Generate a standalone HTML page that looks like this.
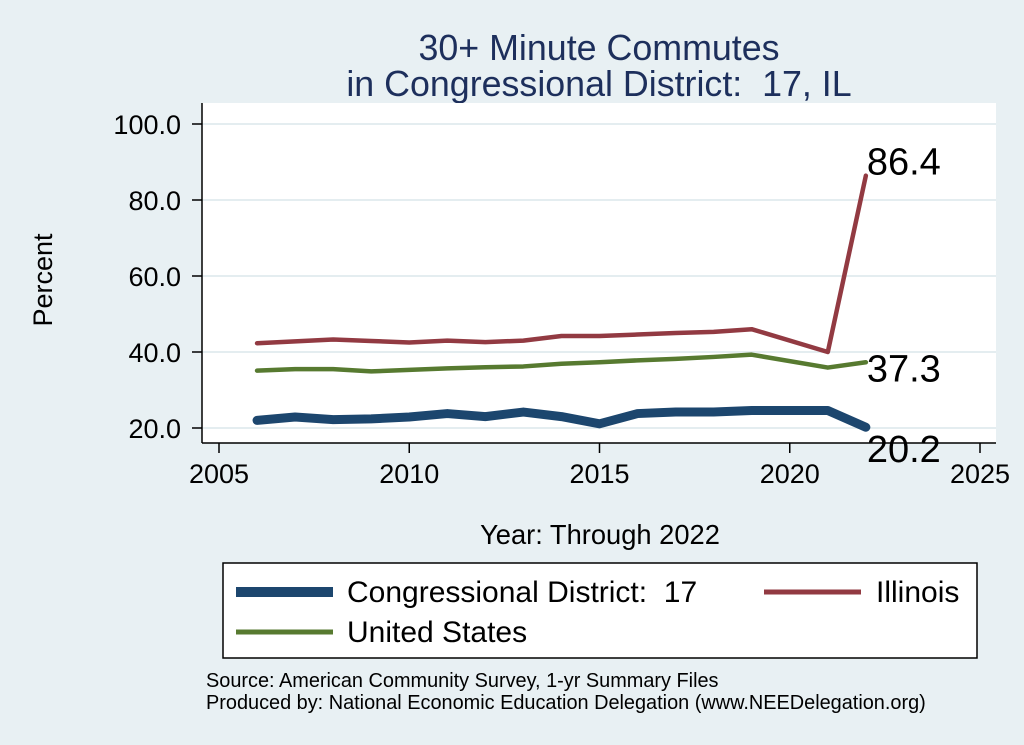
<!DOCTYPE html>
<html><head><meta charset="utf-8"><style>
body{margin:0;background:#e8f0f3;}
svg{display:block;font-family:"Liberation Sans",sans-serif;}
text{white-space:pre;}
</style></head><body>
<svg id="c" width="1024" height="745" xml:space="preserve">
<rect x="0" y="0" width="1024" height="745" fill="#e8f0f3"/>
<text x="599" y="60" font-size="35.8" fill="#1d2f5c" text-anchor="middle">30+ Minute Commutes</text>
<text x="599" y="96" font-size="35.8" fill="#1d2f5c" text-anchor="middle">in Congressional District:  17, IL</text>
<rect x="202" y="103" width="794" height="340" fill="#fff"/>
<g id="grid"></g>
<g id="axes"></g>
<g id="series"></g>
<text x="52" y="280" font-size="27" text-anchor="middle" transform="rotate(-90 52 280)">Percent</text>
<text x="600" y="544" font-size="27.3" text-anchor="middle">Year: Through 2022</text>
<g>
<rect x="223" y="563" width="754" height="95" fill="#fff" stroke="#000" stroke-width="1.5"/>
<line x1="236" y1="592" x2="333" y2="592" stroke="#1c466e" stroke-width="10"/>
<text x="347" y="602" font-size="30">Congressional District:  17</text>
<line x1="764" y1="592" x2="861" y2="592" stroke="#923a42" stroke-width="5"/>
<text x="876" y="602" font-size="30">Illinois</text>
<line x1="236" y1="632" x2="333" y2="632" stroke="#577a30" stroke-width="5"/>
<text x="347" y="642" font-size="30">United States</text>
</g>
<text x="206" y="687" font-size="19.9">Source: American Community Survey, 1-yr Summary Files</text>
<text x="206" y="709" font-size="19.9">Produced by: National Economic Education Delegation (www.NEEDelegation.org)</text>
</svg>
<script>
const years=[2006,2007,2008,2009,2010,2011,2012,2013,2014,2015,2016,2017,2018,2019,2021,2022];
const district=[22,22.9,22.2,22.4,22.9,23.8,23,24.2,23,21.1,23.8,24.2,24.2,24.6,24.6,20.2];
const illinois=[42.3,42.8,43.3,42.9,42.5,43,42.6,43,44.2,44.2,44.6,45,45.3,46,40,86.4];
const us=[35.1,35.5,35.5,34.9,35.3,35.7,36,36.2,36.9,37.3,37.8,38.2,38.7,39.3,35.9,37.3];
const yTicks=[20,40,60,80,100];
const xTicks=[2005,2010,2015,2020,2025];
const X=v=>219+(v-2005)*38.05;
const Y=v=>428-(v-20)*3.8;
const NS="http://www.w3.org/2000/svg";
function mk(t,a,p){const e=document.createElementNS(NS,t);for(const k in a)e.setAttribute(k,a[k]);p.appendChild(e);return e;}
const grid=document.getElementById('grid'),axes=document.getElementById('axes'),ser=document.getElementById('series');
yTicks.forEach(v=>{
 const g=mk('line',{x1:202,x2:996,y1:Y(v),y2:Y(v),stroke:'#e4edf0','stroke-width':2},grid);
 
 
 const t=mk('line',{x1:192,x2:202,y1:Y(v),y2:Y(v),stroke:'#000','stroke-width':1.5},axes);
 
 
 const l=mk('text',{x:181,y:Y(v)+10,'font-size':27,'text-anchor':'end'},axes);
 l.textContent=v.toFixed(1);
 
 
});
xTicks.forEach(v=>{
 const t=mk('line',{x1:X(v),x2:X(v),y1:443,y2:453,stroke:'#000','stroke-width':1.5},axes);
 
 
 const l=mk('text',{x:X(v),y:483,'font-size':27,'text-anchor':'middle'},axes);
 l.textContent=v;
 
 
});
const ya=mk('line',{x1:202,x2:202,y1:103,y2:443,stroke:'#000','stroke-width':1.5},axes);


const xa=mk('line',{x1:202,x2:996,y1:443,y2:443,stroke:'#000','stroke-width':1.5},axes);


function line(vals,color,w,name){
 const p=mk('polyline',{points:vals.map((v,i)=>X(years[i])+','+Y(v)).join(' '),fill:'none',stroke:color,'stroke-width':w,'stroke-linejoin':'round','stroke-linecap':'round'},ser);
 
 
}
line(us,'#577a30',4.5,'line-united-states');
line(illinois,'#923a42',4.5,'line-illinois');
line(district,'#1c466e',9,'line-district');
function lab(v,dy,name){
 const t=mk('text',{x:X(2022)+1,y:Y(v)+dy,'font-size':38},ser);
 t.textContent=v.toFixed(1);
 
 
}
lab(illinois[illinois.length-1],-1,'end-label-illinois');
lab(us[us.length-1],19,'end-label-us');
lab(district[district.length-1],35,'end-label-district');
</script>
</body></html>
